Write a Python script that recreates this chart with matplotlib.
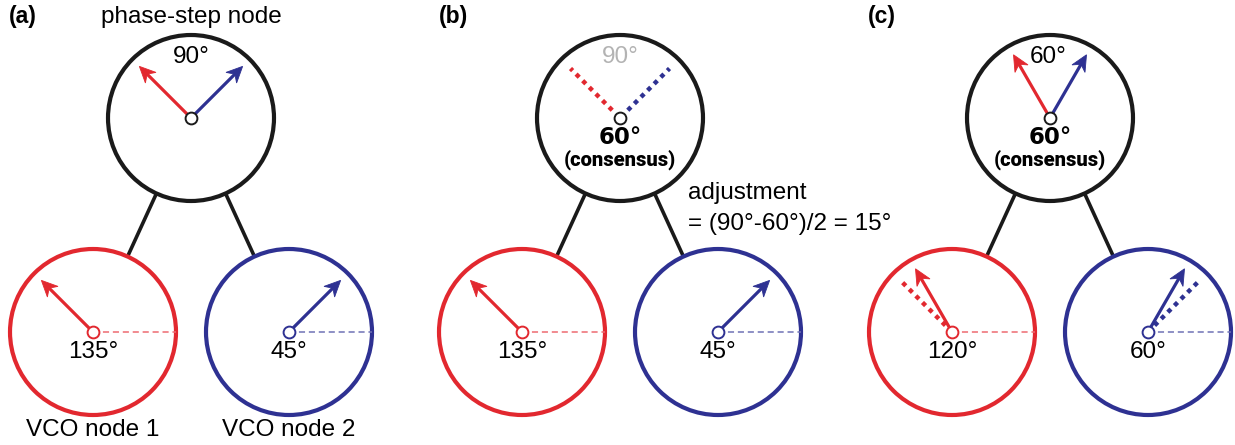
import numpy as np
import matplotlib.pyplot as plt
from matplotlib.patches import Circle, Polygon

# phases (degrees) shown in each panel
panel_tags = ['(a)', '(b)', '(c)']
top_labels = ['90°', '90°', '60°']
top_red = [135, 135, 120]
top_blue = [45, 45, 60]
top_style = ['arrow', 'dotted', 'arrow']
vco1_phase = [135, 135, 120]
vco2_phase = [45, 45, 60]
vco1_old = [None, None, 135]
vco2_old = [None, None, 45]
consensus = [None, '60°', '60°']

RED = '#e2282f'
BLUE = '#2e3192'
RED_LIGHT = '#ee6b72'
BLUE_LIGHT = '#6f72b5'
GRAY = '#b3b3b3'
FONT = 'Liberation Sans'
FS = 17.5

R = 83        # node radius (px)
L = 73        # arrow length (px)


def pol(c, ang, r, side=0.0):
    a = np.deg2rad(ang)
    ux, uy = np.cos(a), -np.sin(a)
    return (c[0] + r * ux - side * uy, c[1] + r * uy + side * ux)


def arrow(ax, c, ang, color):
    # shaft plus a notched (stealth-style) head
    s = pol(c, ang, L - 10)
    ax.plot([c[0], s[0]], [c[1], s[1]], color=color, lw=2.3,
            solid_capstyle='butt', zorder=4)
    head = [pol(c, ang, L), pol(c, ang, L - 16, 7.5),
            pol(c, ang, L - 11), pol(c, ang, L - 16, -7.5)]
    ax.add_patch(Polygon(head, closed=True, fc=color, ec=color, lw=0.6, zorder=4))


def dotted(ax, c, ang, color, r0=0):
    a0 = pol(c, ang, r0)
    a1 = pol(c, ang, 70)
    ax.plot([a0[0], a1[0]], [a0[1], a1[1]], color=color, lw=3.2,
            ls=(0, (1, 1.1)), solid_capstyle='butt', dash_capstyle='butt', zorder=3)


def hub(ax, c, color):
    ax.plot(c[0], c[1], 'o', ms=8.5, mfc='white', mec=color, mew=1.4, zorder=6)


fig = plt.figure(figsize=(12.35, 4.45), dpi=100)
ax = fig.add_axes([0, 0, 1, 1])
ax.set_xlim(0, 1235)
ax.set_ylim(445, 0)
ax.set_aspect('equal')
ax.axis('off')

x_offsets = [0, 429, 859]
tag_x = [9, 439, 868]

for i in range(3):
    dx = x_offsets[i]
    top = (191 + dx, 118)
    left = (93 + dx, 332)
    right = (289 + dx, 332)

    ax.text(tag_x[i], 17, panel_tags[i], fontsize=16.5, fontweight='bold',
            family=FONT, ha='left', va='center')

    # node circles
    ax.add_patch(Circle(top, R, fill=False, ec='#1a1a1a', lw=3.0, zorder=2))
    ax.add_patch(Circle(left, R, fill=False, ec=RED, lw=3.0, zorder=2))
    ax.add_patch(Circle(right, R, fill=False, ec=BLUE, lw=3.0, zorder=2))

    # links between the phase-step node and the VCO nodes
    for c in (left, right):
        v = np.array(c) - np.array(top)
        u = v / np.hypot(*v)
        p0 = np.array(top) + u * R
        p1 = np.array(c) - u * R
        ax.plot([p0[0], p1[0]], [p0[1], p1[1]], color='#1a1a1a', lw=2.6,
                solid_capstyle='butt', zorder=1)

    # phase-step node contents
    if top_style[i] == 'arrow':
        arrow(ax, top, top_red[i], RED)
        arrow(ax, top, top_blue[i], BLUE)
        ax.text(top[0] - 2 if i == 2 else top[0], 57, top_labels[i],
                fontsize=FS, family=FONT, ha='center', va='center', zorder=5)
    else:
        dotted(ax, top, top_red[i], RED, r0=11)
        dotted(ax, top, top_blue[i], BLUE, r0=11)
        ax.text(top[0], 57, top_labels[i], fontsize=FS, family=FONT,
                color=GRAY, ha='center', va='center', zorder=5)
    hub(ax, top, '#1a1a1a')

    if consensus[i]:
        ax.text(top[0], 137, consensus[i], fontsize=16.5, fontweight='heavy',
                family='DejaVu Sans', ha='center', va='center')
        ax.text(top[0], 160, '(consensus)', fontsize=14.5, fontweight='black',
                family=['Roboto', 'DejaVu Sans'], ha='center', va='center')

    # VCO nodes
    for c, ph, old, col, light in ((left, vco1_phase[i], vco1_old[i], RED, RED_LIGHT),
                                   (right, vco2_phase[i], vco2_old[i], BLUE, BLUE_LIGHT)):
        ax.plot([c[0], c[0] + R], [c[1], c[1]], color=light, lw=1.1,
                ls=(0, (4, 2.5)), zorder=3)
        if old is not None:
            dotted(ax, c, old, col)
        arrow(ax, c, ph, col)
        hub(ax, c, col)
        ax.text(c[0], 352, f'{ph}°', fontsize=FS, family=FONT,
                ha='center', va='center', zorder=5)

    if i == 0:
        ax.text(top[0], 17, 'phase-step node', fontsize=FS, family=FONT,
                ha='center', va='center')
        ax.text(left[0], 430, 'VCO node 1', fontsize=FS, family=FONT,
                ha='center', va='center')
        ax.text(right[0], 430, 'VCO node 2', fontsize=FS, family=FONT,
                ha='center', va='center')
    if i == 1:
        ax.text(688, 193, 'adjustment', fontsize=FS, family=FONT,
                ha='left', va='center')
        ax.text(688, 224, '= (90°-60°)/2 = 15°', fontsize=FS, family=FONT,
                ha='left', va='center')

fig.savefig('out.png', dpi=100)
